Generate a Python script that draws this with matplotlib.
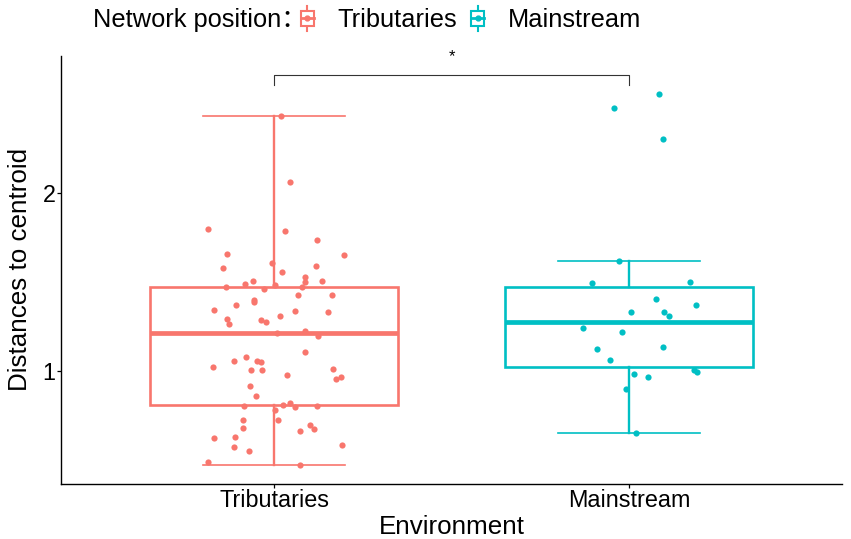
import numpy as np
import matplotlib.pyplot as plt
from matplotlib.patches import Rectangle
from matplotlib.lines import Line2D
from matplotlib.legend_handler import HandlerBase

plt.rcParams['font.family'] = ['Liberation Sans', 'Noto Sans CJK SC', 'DejaVu Sans']

groups = ['Tributaries', 'Mainstream']
colors = ['#F8766D', '#00BFC4']

# distances, with the horizontal jitter of each dot
trib_y = [2.431, 2.064, 1.799, 1.787, 1.734, 1.657, 1.653, 1.580, 1.607, 1.588,
          1.558, 1.530, 1.500, 1.507, 1.489, 1.504, 1.472, 1.458, 1.481, 1.472,
          1.425, 1.425, 1.396, 1.385, 1.369, 1.343, 1.294, 1.264, 1.288, 1.274,
          1.309, 1.335, 1.331, 1.212, 1.223, 1.195, 1.108, 1.024, 1.056, 1.079,
          1.058, 1.049, 1.004, 1.004, 0.976, 1.011, 0.953, 0.965, 0.917, 0.858,
          0.802, 0.779, 0.809, 0.820, 0.798, 0.805, 0.726, 0.725, 0.681, 0.698,
          0.672, 0.661, 0.622, 0.629, 0.573, 0.551, 0.584, 0.489, 0.472]
trib_jit = [0.021, 0.046, -0.185, 0.031, 0.120, -0.131, 0.197, -0.143, -0.006, 0.118,
            0.022, 0.086, 0.086, 0.136, -0.081, -0.060, -0.135, -0.029, 0.002, 0.080,
            0.068, 0.163, -0.056, -0.055, -0.106, -0.169, -0.133, -0.128, -0.037, -0.023,
            0.016, 0.058, 0.151, 0.009, 0.086, 0.125, 0.086, -0.172, -0.114, -0.080,
            -0.049, -0.038, -0.064, -0.034, 0.038, 0.167, 0.175, 0.190, -0.068, -0.052,
            -0.084, 0.003, 0.024, 0.044, 0.060, 0.122, 0.012, -0.088, -0.086, 0.102,
            0.112, 0.072, -0.169, -0.110, -0.113, -0.071, 0.191, -0.187, 0.072]

main_y = [2.556, 2.479, 2.303, 1.616, 1.494, 1.502, 1.406, 1.372, 1.331, 1.333,
          1.307, 1.243, 1.221, 1.125, 1.137, 1.062, 0.985, 0.966, 1.004, 0.993,
          0.897, 0.650]
main_jit = [0.085, -0.043, 0.096, -0.029, -0.104, 0.172, 0.076, 0.188, 0.006, 0.098,
            0.113, -0.129, -0.020, -0.090, 0.095, -0.054, 0.014, 0.054, 0.182, 0.191,
            -0.009, 0.020]

# box statistics as drawn
q1 = [0.811, 1.024]
med = [1.215, 1.274]
q3 = [1.472, 1.470]
whislo = [0.474, 0.650]
whishi = [2.433, 1.616]

fig = plt.figure(figsize=(8.51, 5.39), dpi=100)
ax = fig.add_axes([61/851, 55/539, 781/851, 428.3/539])

for i in range(2):
    st = [{'med': med[i], 'q1': q1[i], 'q3': q3[i], 'whislo': whislo[i],
           'whishi': whishi[i], 'fliers': []}]
    c = colors[i]
    ax.bxp(st, positions=[i + 1], widths=0.7, capwidths=0.4, patch_artist=True,
           boxprops=dict(facecolor='white', edgecolor=c, linewidth=1.9),
           medianprops=dict(color=c, linewidth=3.4, solid_capstyle='butt'),
           whiskerprops=dict(color=c, linewidth=1.7),
           capprops=dict(color=c, linewidth=1.2),
           manage_ticks=False, zorder=2)

ax.scatter(1 + np.array(trib_jit), trib_y, s=20, color=colors[0], zorder=3, linewidths=0)
ax.scatter(2 + np.array(main_jit), main_y, s=20, color=colors[1], zorder=3, linewidths=0)

# significance bracket
ax.plot([1, 1, 2, 2], [2.607, 2.663, 2.663, 2.607], color='#333333', lw=0.8, clip_on=False)
ax.text(1.5, 2.765, '*', ha='center', va='center', fontsize=12, clip_on=False)

ax.set_xlim(0.4, 2.6)
ax.set_ylim(0.365, 2.771)
ax.set_xticks([1, 2])
ax.set_xticklabels(groups)
ax.set_yticks([1, 2])
ax.set_yticklabels(['1', '2'])
ax.tick_params(labelsize=16.8, length=2.6, width=0.9, colors='black')
ax.tick_params(axis='x', pad=0.8)
ax.tick_params(axis='y', pad=1.5)
for s in ['top', 'right']:
    ax.spines[s].set_visible(False)
for s in ['left', 'bottom']:
    ax.spines[s].set_linewidth(1.0)
ax.set_xlabel('Environment', fontsize=18.7, labelpad=2.4)
ax.set_ylabel('Distances to centroid', fontsize=18.7, labelpad=7.5)


class BoxKey(HandlerBase):
    def create_artists(self, legend, orig, xd, yd, w, h, fontsize, trans):
        c = orig.get_color()
        cx = -xd + w / 2
        cy = -yd + h / 2
        arts = [Line2D([cx, cx], [cy - h * 0.7, cy + h * 0.7], color=c, lw=1.5),
                Rectangle((-xd, cy - h * 0.42), w, h * 0.84, facecolor='white',
                          edgecolor=c, lw=1.5),
                Line2D([-xd, -xd + w], [cy, cy], color=c, lw=2.0),
                Line2D([cx], [cy], color=c, marker='o', markersize=3.5, lw=0)]
        for a in arts:
            a.set_transform(trans)
        return arts


handles = [Line2D([], [], color=c) for c in colors]
fig.text(93/851, 1 - 20/539, 'Network position：', fontsize=18.3, va='center', ha='left')
fig.legend(handles, groups, handler_map={Line2D: BoxKey()}, loc='center left',
           bbox_to_anchor=(301/851, 1 - 20/539), ncol=2, frameon=False, fontsize=18.3,
           handlelength=0.5, handleheight=0.7, handletextpad=0.95, columnspacing=0.55,
           borderpad=0, borderaxespad=0)

fig.savefig('out.png', dpi=100)
